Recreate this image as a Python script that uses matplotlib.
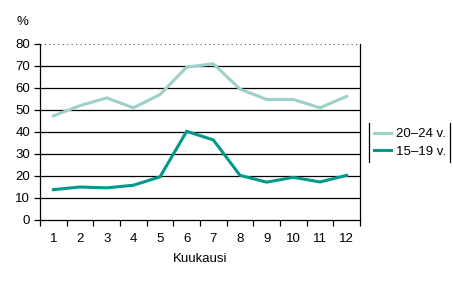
import numpy as np
import matplotlib
matplotlib.use('Agg')
import matplotlib.pyplot as plt
from matplotlib.lines import Line2D

plt.rcParams['font.family'] = ['Liberation Sans', 'DejaVu Sans']

# data
months = [1, 2, 3, 4, 5, 6, 7, 8, 9, 10, 11, 12]
age_20_24 = [47.3, 52, 55.5, 51, 57, 69.5, 71, 59.5, 54.8, 54.8, 51, 56.2]
age_15_19 = [13.8, 15, 14.6, 15.8, 19.6, 40.3, 36.4, 20.3, 17.2, 19.4, 17.3, 20.3]
labels = ['20\u201324 v.', '15\u201319 v.']
yticks = [0, 10, 20, 30, 40, 50, 60, 70, 80]

light = '#9dd0c8'
dark = '#00998a'
fs = 9.5

W, H = 453, 285
fig = plt.figure(figsize=(W / 100, H / 100), dpi=100)
ax = fig.add_axes([40 / W, (H - 220) / H, 320 / W, 176 / H])

x = np.arange(len(months))
ax.plot(x, age_20_24, color=light, lw=2.2, label=labels[0], solid_joinstyle='miter')
ax.plot(x, age_15_19, color=dark, lw=2.2, label=labels[1], solid_joinstyle='miter')

ax.set_xlim(-0.5, len(months) - 0.5)
ax.set_ylim(0, 80)
for v in yticks[1:-1]:
    ax.axhline(v, color='black', lw=0.9, zorder=0)
ax.axhline(80, color='#555555', lw=0.8, ls=(0, (1, 3)), zorder=0)

ax.set_yticks(yticks)
ax.set_yticklabels([str(v) for v in yticks], fontsize=fs)
ax.set_xticks(x)
ax.set_xticklabels([str(m) for m in months], fontsize=fs)
ax.set_xticks(np.arange(len(months) + 1) - 0.5, minor=True)
ax.tick_params(axis='x', which='major', length=0, pad=9)
ax.tick_params(axis='x', which='minor', length=4, width=0.9, direction='out')
ax.tick_params(axis='y', length=4, width=0.9, direction='out', pad=3)

for s in ['left', 'bottom', 'right']:
    ax.spines[s].set_linewidth(0.9)
ax.spines['top'].set_visible(False)

ax.set_xlabel('Kuukausi', fontsize=fs, labelpad=6)
fig.text(22 / W, 1 - 22 / H, '%', fontsize=fs, ha='center', va='center')

leg = fig.legend(loc='upper left', bbox_to_anchor=(374 / W, 1 - 128 / H),
                 frameon=False, fontsize=fs, handlelength=1.3,
                 handletextpad=0.38, labelspacing=0.4, borderaxespad=0,
                 borderpad=0)

fig.add_artist(Line2D([369 / W, 369 / W], [1 - 123 / H, 1 - 162 / H], color='black', lw=0.9))
fig.add_artist(Line2D([450 / W, 450 / W], [1 - 123 / H, 1 - 162 / H], color='black', lw=0.9))

fig.savefig('out.png', dpi=100)
